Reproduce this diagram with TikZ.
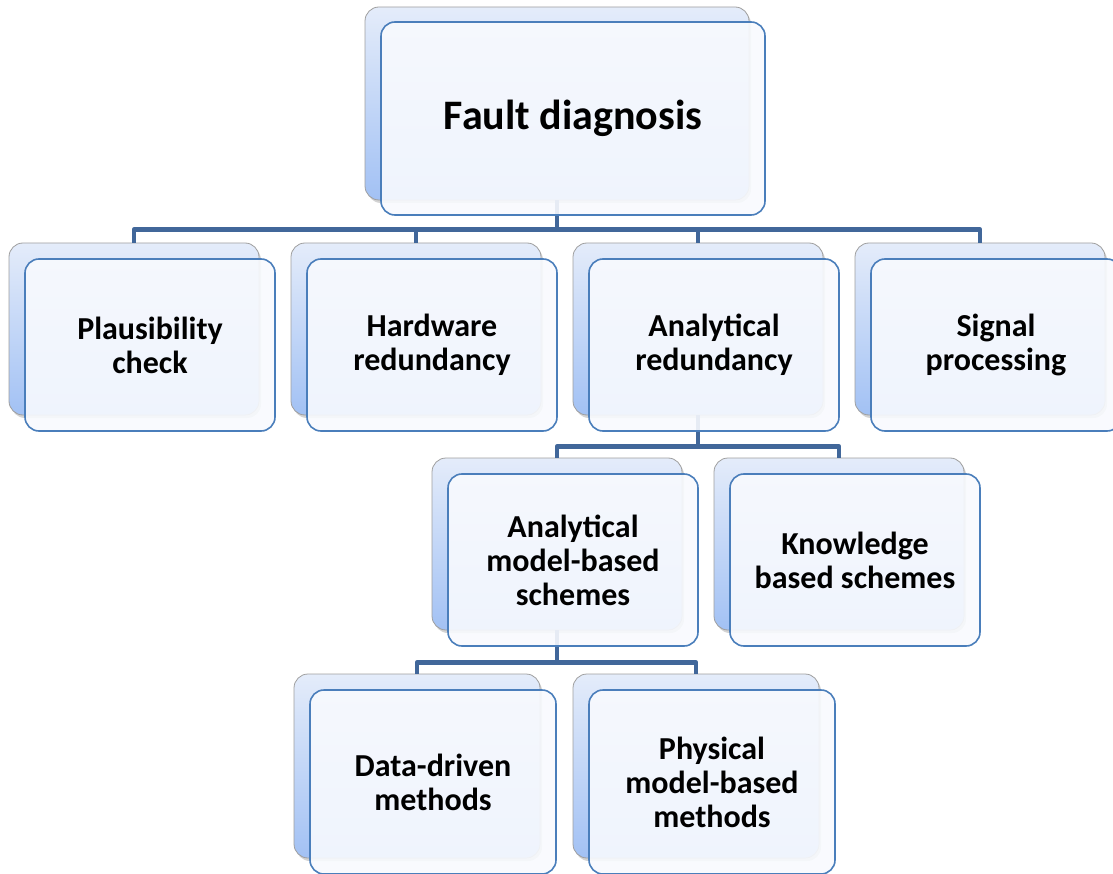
\documentclass[tikz,border=0pt]{standalone}
\usepackage{fontspec}
\setmainfont{Carlito}
\usetikzlibrary{calc,shadows}
\definecolor{linkblue}{HTML}{41679A}
\definecolor{edgeblue}{HTML}{4A7EBB}
\definecolor{backtop}{HTML}{E4ECFA}
\definecolor{backbottom}{HTML}{A2C1F4}
\definecolor{frontfill}{HTML}{F8FAFE}
\newcommand{\tilefont}{\fontsize{32}{34}\selectfont\bfseries}
\newcommand{\rootfont}{\fontsize{42}{46}\selectfont\bfseries}

\begin{document}
\begin{tikzpicture}[x=1pt,y=-1pt,
                    back/.style={draw=gray!75,line width=0.8pt,rounded corners=14pt,
                                 top color=backtop,bottom color=backbottom,
                                 drop shadow={shadow xshift=2pt,shadow yshift=-3pt,opacity=0.35}},
                    front/.style={draw=edgeblue,line width=1.6pt,rounded corners=14pt,
                                  fill=frontfill,fill opacity=0.9,text opacity=1,align=center,font=\tilefont},
                    root/.style={minimum width=384pt,minimum height=193pt},
                    tile/.style={minimum width=250pt,minimum height=172pt},
                    tall/.style={minimum width=246pt,minimum height=184pt},
                    link/.style={draw=linkblue,line width=4.5pt,line join=round}]
            \useasboundingbox (0,0) rectangle (1113,874);

            % back tiles
            \node[back,root] (fault-back) at (557,103.5) {};
            \node[back,tile] (plaus-back) at (134,329) {};
            \node[back,tile] (hard-back) at (416,329) {};
            \node[back,tile] (anal-back) at (698,329) {};
            \node[back,tile] (signal-back) at (980,329) {};
            \node[back,tile] (amb-back) at (557,544) {};
            \node[back,tile] (know-back) at (839,544) {};
            \node[back,tall] (data-back) at (417,766) {};
            \node[back,tall] (phys-back) at (696,766) {};

            % connectors
            \draw[link] (fault-back.south) -- ++(0,29) -| (plaus-back.north);
            \draw[link] (fault-back.south) -- ++(0,29) -| (hard-back.north);
            \draw[link] (fault-back.south) -- ++(0,29) -| (anal-back.north);
            \draw[link] (fault-back.south) -- ++(0,29) -| (signal-back.north);
            \draw[link] (anal-back.south) -- ++(0,31) -| (amb-back.north);
            \draw[link] (anal-back.south) -- ++(0,31) -| (know-back.north);
            \draw[link] (amb-back.south) -- ++(0,32) -| (data-back.north);
            \draw[link] (amb-back.south) -- ++(0,32) -| (phys-back.north);

            % front tiles
            \node[front,root,font=\rootfont] (fault) at ($ (fault-back) + (16,15) $) {Fault diagnosis};
            \node[front,tile] (plaus) at ($ (plaus-back) + (16,16) $) {Plausibility\\check};
            \node[front,tile] (hard) at ($ (hard-back) + (16,16) $) {Hardware\\redundancy};
            \node[front,tile] (anal) at ($ (anal-back) + (16,16) $) {Analytical\\redundancy};
            \node[front,tile] (signal) at ($ (signal-back) + (16,16) $) {Signal\\processing};
            \node[front,tile] (amb) at ($ (amb-back) + (16,16) $) {Analytical\\model-based\\schemes};
            \node[front,tile] (know) at ($ (know-back) + (16,16) $) {Knowledge\\based schemes};
            \node[front,tall] (data) at ($ (data-back) + (16,16) $) {Data-driven\\methods};
            \node[front,tall] (phys) at ($ (phys-back) + (16,16) $) {Physical\\model-based\\methods};
        \end{tikzpicture}
\end{document}
